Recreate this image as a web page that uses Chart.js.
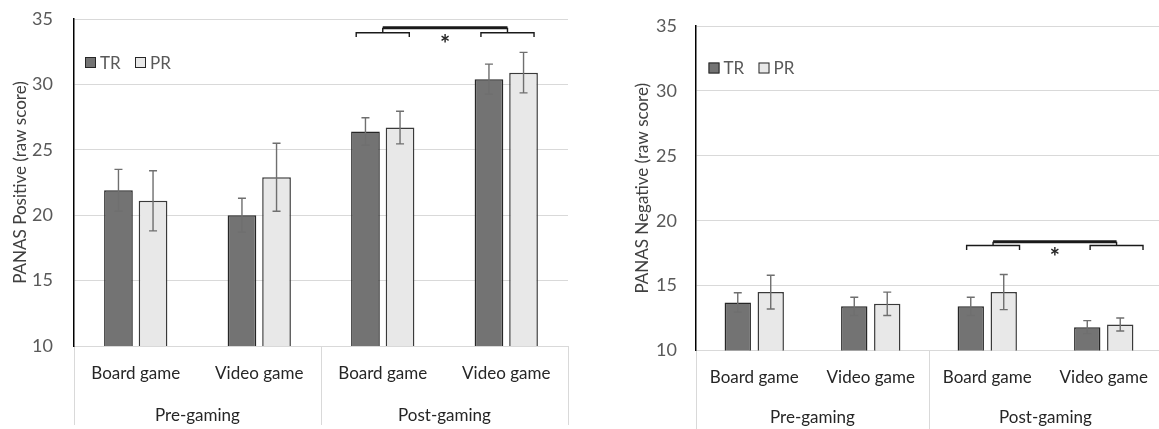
<!DOCTYPE html>
<html>
<head>
<meta charset="utf-8">
<script src="https://cdn.jsdelivr.net/npm/chart.js@4.4.1/dist/chart.umd.min.js"></script>
<style>
  html, body { margin: 0; padding: 0; background: #fff; overflow: hidden; }
  #left { position: absolute; left: 0; top: 0; }
  #right { position: absolute; left: 580px; top: 0; }
</style>
</head>
<body>
<canvas id="left" width="580" height="429"></canvas>
<canvas id="right" width="600" height="429"></canvas>
<script>
const categories = ["Board game", "Video game", "Board game", "Video game"];
const phases = ["Pre-gaming", "Post-gaming"];
const seriesNames = ["TR", "PR"];
const yTicks = [10, 15, 20, 25, 30, 35];

const positiveTR = [21.9, 20.0, 26.4, 30.4];
const positiveTRErr = [1.6, 1.3, 1.05, 1.15];
const positivePR = [21.1, 22.9, 26.7, 30.9];
const positivePRErr = [2.3, 2.6, 1.25, 1.55];

const negativeTR = [13.7, 13.4, 13.4, 11.8];
const negativeTRErr = [0.75, 0.7, 0.7, 0.5];
const negativePR = [14.5, 13.6, 14.5, 12.0];
const negativePRErr = [1.3, 0.9, 1.35, 0.5];

const FONT = "Lato, 'Noto Sans', sans-serif";
const GRID = "#d9d9d9";

// error bars drawn from each dataset's "errors" list
const errorBars = {
  id: "errorBars",
  afterDatasetsDraw(chart) {
    const { ctx } = chart;
    const y = chart.scales.y;
    ctx.save();
    ctx.strokeStyle = "#6f6f6f";
    ctx.lineWidth = 1.4;
    chart.data.datasets.forEach((ds, i) => {
      chart.getDatasetMeta(i).data.forEach((bar, j) => {
        const top = y.getPixelForValue(ds.data[j] + ds.errors[j]);
        const bot = y.getPixelForValue(ds.data[j] - ds.errors[j]);
        ctx.beginPath();
        ctx.moveTo(bar.x, top); ctx.lineTo(bar.x, bot);
        ctx.moveTo(bar.x - 4, top); ctx.lineTo(bar.x + 4, top);
        ctx.moveTo(bar.x - 4, bot); ctx.lineTo(bar.x + 4, bot);
        ctx.stroke();
      });
    });
    ctx.restore();
  }
};

// legend inside the plot area
const innerLegend = {
  id: "innerLegend",
  afterDraw(chart, args, opts) {
    const { ctx, chartArea } = chart;
    let x = chartArea.left + opts.x;
    const cy = chartArea.top + opts.y;
    ctx.save();
    ctx.font = "17px " + FONT;
    ctx.textBaseline = "middle";
    chart.data.datasets.forEach((ds) => {
      ctx.fillStyle = ds.backgroundColor;
      ctx.fillRect(x, cy - 5.5, 11, 11);
      ctx.strokeStyle = "#262626";
      ctx.lineWidth = 1;
      ctx.strokeRect(x + 0.5, cy - 5, 10, 10);
      ctx.fillStyle = "#595959";
      ctx.fillText(ds.label, x + 15, cy + 1);
      x += opts.step;
    });
    ctx.restore();
  }
};

// significance bracket between the two post-gaming categories
const sigBracket = {
  id: "sigBracket",
  afterDraw(chart, args, b) {
    const { ctx } = chart;
    const xs = chart.scales.x, ys = chart.scales.y;
    const xa = xs.getPixelForValue(b.a), xb = xs.getPixelForValue(b.b);
    const half = b.half * (xs.getPixelForValue(1) - xs.getPixelForValue(0));
    const yTop = ys.getPixelForValue(b.top);
    const yMid = ys.getPixelForValue(b.mid);
    const yLow = ys.getPixelForValue(b.low);
    ctx.save();
    ctx.strokeStyle = "#1a1a1a";
    ctx.lineWidth = 1.4;
    [xa, xb].forEach((c) => {
      ctx.beginPath();
      ctx.moveTo(c - half, yLow);
      ctx.lineTo(c - half, yMid);
      ctx.lineTo(c + half, yMid);
      ctx.lineTo(c + half, yLow);
      ctx.moveTo(c, yMid);
      ctx.lineTo(c, yTop);
      ctx.stroke();
    });
    ctx.lineWidth = 3;
    ctx.beginPath();
    ctx.moveTo(xa, yTop);
    ctx.lineTo(xb, yTop);
    ctx.stroke();
    ctx.fillStyle = "#262626";
    ctx.font = "bold 24px " + FONT;
    ctx.textAlign = "center";
    ctx.textBaseline = "middle";
    ctx.fillText("*", (xa + xb) / 2, ys.getPixelForValue(b.star) + 6);
    ctx.restore();
  }
};

function makeChart(id, title, tr, trErr, pr, prErr, lay) {
  const ctx = document.getElementById(id).getContext("2d");
  return new Chart(ctx, {
    type: "bar",
    data: {
      labels: categories,
      datasets: [
        {
          label: seriesNames[0],
          data: tr,
          errors: trErr,
          backgroundColor: "#737373",
          borderColor: "#262626",
          borderWidth: 1.5,
        },
        {
          label: seriesNames[1],
          data: pr,
          errors: prErr,
          backgroundColor: "#e8e8e8",
          borderColor: "#3a3a3a",
          borderWidth: 1.5,
        },
      ],
    },
    options: {
      responsive: false,
      animation: false,
      categoryPercentage: lay.catPct,
      barPercentage: lay.barPct,
      layout: { padding: lay.padding },
      scales: {
        x: {
          position: "bottom",
          offset: true,
          grid: {
            offset: true,
            drawOnChartArea: false,
            drawTicks: true,
            tickLength: 79,
            color: (c) => (c.index === undefined || c.index % 2 === 0 ? GRID : "rgba(0,0,0,0)"),
          },
          border: { display: false },
          ticks: {
            color: "#262626",
            font: { family: FONT, size: 17 },
            padding: lay.labelPad - 79,
            maxRotation: 0,
            autoSkip: false,
          },
          afterFit: (s) => { s.height = lay.xHeight; },
        },
        x2: {
          type: "category",
          position: "bottom",
          labels: phases,
          offset: true,
          grid: { display: false, drawTicks: false },
          border: { display: false },
          ticks: {
            color: "#262626",
            font: { family: FONT, size: 17 },
            padding: lay.groupPad,
            maxRotation: 0,
          },
          afterFit: (s) => { s.height = lay.x2Height; },
        },
        y: {
          min: 10,
          max: 35,
          afterBuildTicks: (s) => { s.ticks = yTicks.map((v) => ({ value: v })); },
          grid: {
            color: GRID,
            lineWidth: 1,
            drawTicks: true,
            tickLength: lay.tickPad,
            tickColor: "rgba(0,0,0,0)",
          },
          border: { color: "#000", width: 1.5 },
          ticks: {
            color: "#595959",
            font: { family: FONT, size: lay.tickSize },
            padding: 0,
          },
          title: {
            display: true,
            text: title,
            color: "#404040",
            font: { family: FONT, size: 17 },
            padding: { top: lay.titlePad, bottom: 0 },
          },
          afterFit: (s) => { s.width = lay.yWidth; },
        },
      },
      plugins: {
        legend: { display: false },
        tooltip: { enabled: false },
        innerLegend: lay.legend,
        sigBracket: lay.bracket,
      },
    },
    plugins: [errorBars, innerLegend, sigBracket],
  });
}

makeChart("left", "PANAS Positive (raw score)",
  positiveTR, positiveTRErr, positivePR, positivePRErr, {
    catPct: 0.56, barPct: 0.83,
    padding: { top: 19, right: 12, bottom: 0, left: 0 },
    yWidth: 74, xHeight: 50, x2Height: 33,
    labelPad: 17, groupPad: 9, tickSize: 18, tickPad: 21, titlePad: 10,
    legend: { x: 11, y: 43.5, step: 50 },
    bracket: { a: 2.0, b: 3.01, half: 0.215, top: 34.33, mid: 33.95, low: 33.62, star: 33.45 },
  });

makeChart("right", "PANAS Negative (raw score)",
  negativeTR, negativeTRErr, negativePR, negativePRErr, {
    catPct: 0.566, barPct: 0.8,
    padding: { top: 26, right: 18, bottom: 0, left: 0 },
    yWidth: 116, xHeight: 50, x2Height: 28.5,
    labelPad: 17, groupPad: 7, tickSize: 18, tickPad: 19, titlePad: 52,
    legend: { x: 12.5, y: 42, step: 50 },
    bracket: { a: 2.05, b: 3.11, half: 0.227, top: 18.38, mid: 18.09, low: 17.74, star: 17.6 },
  });
</script>
</body>
</html>
